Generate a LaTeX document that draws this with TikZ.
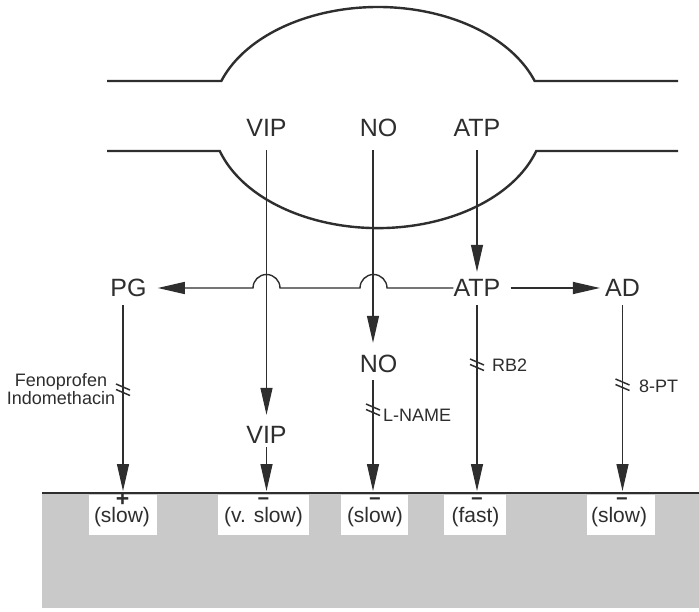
\documentclass[tikz,border=0pt]{standalone}
\usepackage{fontspec}
\setmainfont{Liberation Sans}
\usetikzlibrary{arrows.meta}
\definecolor{ink}{HTML}{2E2E2E}
\definecolor{bandgray}{HTML}{C9C9C9}
\begin{document}
\begin{tikzpicture}[x=1pt,y=-1pt,
  big/.style={font=\fontsize{25}{25}\selectfont, inner sep=0pt, text=ink, text height=18pt, text depth=0pt},
  small/.style={font=\fontsize{18}{18}\selectfont, inner sep=0pt, text=ink},
  rate/.style={font=\fontsize{21}{21}\selectfont, inner sep=0pt, text=ink},
  sign/.style={font=\bfseries\fontsize{20}{20}\selectfont, inner sep=0pt, text=ink},
  arr/.style={draw=ink, line width=1.2pt, -{Triangle[length=27pt,width=12pt]}},
  vessel/.style={draw=ink, line width=2.4pt},
  rbox/.style={fill=white, inner sep=0pt, minimum height=40pt},
  brkmark/.pic={\draw[ink, line width=1.5pt] (-7,-6) -- (7,0) (-7,-0.5) -- (7,5.5);}
]
\fill[white] (0,0) rectangle (699,612);
\useasboundingbox (0,0) rectangle (699,612);

% vessel
\draw[vessel] (107,81) -- ({378-166*cos(19.3)},81)
  arc[start angle=199.3, end angle=340.7, x radius=166, y radius=110.5] -- (678,81);
\draw[vessel] (107,151) -- ({378-166*cos(17.6)},151)
  arc[start angle=162.4, end angle=17.6, x radius=166, y radius=110.5] -- (678,151);

% tissue band
\node[fill=bandgray, inner sep=0pt, minimum width=657pt, minimum height=115pt, anchor=north west] (band) at (42,493) {};
\draw[ink, line width=2pt] (band.north west) -- (band.north east);
\coordinate (g1) at (123,493);
\coordinate (g2) at (266.5,493);
\coordinate (g3) at (373,493);
\coordinate (g4) at (477,493);
\coordinate (g5) at (622.5,493);

% labels
\node[big] (vipT) at (266.5,128) {VIP};
\node[big] (noT) at (378.5,128) {NO};
\node[big] (atpT) at (477,128) {ATP};
\node[big] (pg) at (128.5,288) {PG};
\node[big] (atp) at (477,288) {ATP};
\node[big] (ad) at (622.5,288) {AD};
\node[big] (noL) at (378.5,364) {NO};
\node[big] (vipL) at (266.5,434) {VIP};

\node[small, align=center] (feno) at (61,389.5) {Fenoprofen\\Indomethacin};
\node[small, anchor=west] (rb2) at (492,365) {RB2};
\node[small, anchor=west] (lname) at (383,415) {L-NAME};
\node[small, anchor=west] (pt8) at (639,386) {8-PT};

% connectors
\draw[arr] ([yshift=-13pt]vipT.south) -- ([yshift=10pt]vipL.north);
\draw[arr, shorten >=2pt] ([yshift=-4pt]vipL.south) -- (g2);
\draw[arr] ([xshift=-5.5pt,yshift=-13pt]noT.south) -- ([xshift=-5.5pt,yshift=12pt]noL.north);
\draw[arr, shorten >=2pt] ([xshift=-5.5pt,yshift=-7pt]noL.south) -- (g3);
\draw[arr] ([yshift=-13pt]atpT.south) -- ([yshift=7pt]atp.north);
\draw[arr, shorten >=2pt] ([yshift=-8pt]atp.south) -- (g4);
\draw[arr, shorten >=2pt] ([xshift=-5.5pt,yshift=-8pt]pg.south) -- (g1);
\draw[arr, shorten >=2pt] ([yshift=-8pt]ad.south) -- (g5);
\draw[arr, line width=1.4pt] (atp.west) -- (387,288) arc[start angle=0, end angle=-180, radius=13.5]
  -- (280,288) arc[start angle=0, end angle=-180, radius=13.5] -- ([xshift=11pt]pg.east);
\draw[arr, line width=1.4pt] ([xshift=10pt]atp.east) -- ([xshift=-5pt]ad.west);

% blockade marks
\pic at (123,390) {brkmark};
\pic at (477,365) {brkmark};
\pic at (373,410) {brkmark};
\pic at (622.5,385) {brkmark};

% response boxes
\node[rbox, minimum width=68pt, anchor=north] (b1) at (123,495) {};
\node[rbox, minimum width=91pt, anchor=north] (b2) at (263.5,495) {};
\node[rbox, minimum width=67pt, anchor=north] (b3) at (374.5,495) {};
\node[rbox, minimum width=62pt, anchor=north] (b4) at (475,495) {};
\node[rbox, minimum width=68pt, anchor=north] (b5) at (621,495) {};

\node[rate, anchor=base] (r1) at (122,522) {(slow)};
\node[rate, anchor=base] (r2) at (263.5,522) {(v. slow)};
\node[rate, anchor=base] (r3) at (375,522) {(slow)};
\node[rate, anchor=base] (r4) at (475.5,522) {(fast)};
\node[rate, anchor=base] (r5) at (619,522) {(slow)};

\node[sign, font=\bfseries\fontsize{23}{23}\selectfont, anchor=base] (s1) at (122.5,506.5) {+};
\node[sign, anchor=base] (s2) at (263.5,505) {−};
\node[sign, anchor=base] (s3) at (375,505) {−};
\node[sign, anchor=base] (s4) at (477,505) {−};
\node[sign, anchor=base] (s5) at (622,505) {−};
\end{tikzpicture}
\end{document}
